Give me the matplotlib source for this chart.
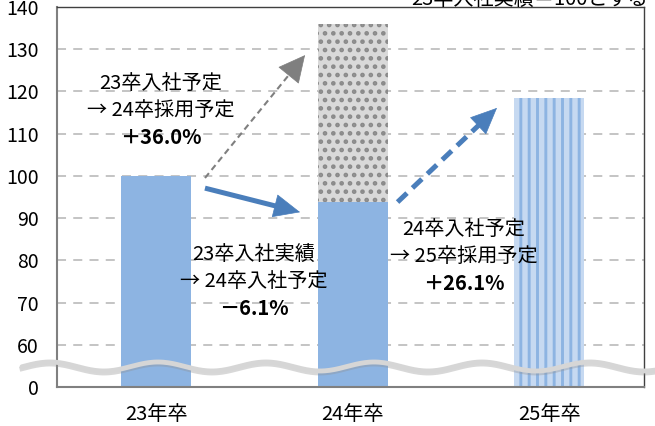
import numpy as np
import matplotlib.pyplot as plt
from matplotlib.lines import Line2D

plt.rcParams['font.family'] = ['Noto Sans CJK JP', 'DejaVu Sans']
plt.rcParams['hatch.linewidth'] = 2.1

# データ（23卒入社実績＝100）
categories = ['23年卒', '24年卒', '25年卒']
join_23 = 100.0      # 23卒入社実績
join_24 = 93.9       # 24卒入社予定
hire_24 = 136.0      # 24卒採用予定
hire_25 = 118.4      # 25卒採用予定
# 縦軸（50 の位置を 0 と表示する省略軸）
ytick_values = [50, 60, 70, 80, 90, 100, 110, 120, 130, 140]
ytick_labels = ['0', '60', '70', '80', '90', '100', '110', '120', '130', '140']
axis_floor = 50

BLUE = '#8db4e2'
LIGHT_BLUE = '#c6d9f1'
ARROW_BLUE = '#4a7ebb'
GREY = '#7f7f7f'

W, H = 655, 426
fig = plt.figure(figsize=(W / 100, H / 100), dpi=100)
ax = fig.add_axes([57 / W, 1 - 387 / H, 587 / W, 380 / H])

x = np.arange(len(categories))
bw = 0.356

# 棒グラフ
ax.bar(x[0], join_23 - axis_floor, bottom=axis_floor, width=bw,
       color=BLUE, lw=0, zorder=2)
ax.bar(x[1], join_24 - axis_floor, bottom=axis_floor, width=bw,
       color=BLUE, lw=0, zorder=2)
ax.bar(x[1], hire_24 - join_24, bottom=join_24, width=bw,
       color='#d9d9d9', edgecolor='#8a8a8a', lw=0, hatch='..', zorder=2)
ax.bar(x[2], hire_25 - axis_floor, bottom=axis_floor, width=bw,
       color=LIGHT_BLUE, edgecolor=BLUE, lw=0, hatch='||', zorder=2)

# 軸の設定
ax.set_xlim(-0.504, 2.483)
ax.set_ylim(axis_floor, 140)
ax.set_xticks(x)
ax.set_xticklabels(categories, fontsize=14.5)
ax.set_yticks(ytick_values)
ax.set_yticklabels(ytick_labels, fontsize=14)
ax.tick_params(axis='x', length=0, pad=12)
ax.tick_params(axis='y', length=0, pad=13)
ax.yaxis.grid(True, color='#bfbfbf', lw=1.3, linestyle=(0, (5, 4)), zorder=0)
ax.set_axisbelow(True)
for side in ['left', 'bottom']:
    ax.spines[side].set_color('#808080')
    ax.spines[side].set_linewidth(1.5)
for side in ['top', 'right']:
    ax.spines[side].set_color('#404040')
    ax.spines[side].set_linewidth(1.0)


# 矢印（軸は点線も可、先端は実線で塗りつぶし）
def draw_arrow(start, tip, color, lw, ls, head_len, head_w):
    p0 = ax.transData.transform(start)
    p1 = ax.transData.transform(tip)
    d = (p1 - p0) / np.hypot(*(p1 - p0))
    base = ax.transData.inverted().transform(p1 - d * head_len * 0.9)
    ax.plot([start[0], base[0]], [start[1], base[1]], color=color, lw=lw,
            linestyle=ls, solid_capstyle='butt', dash_capstyle='butt',
            zorder=4)
    ax.annotate('', xy=tip, xytext=base,
                arrowprops=dict(arrowstyle=f'-|>,head_length={head_len / 10},'
                                           f'head_width={head_w / 20}',
                                color=color, lw=0.5, mutation_scale=10,
                                shrinkA=0, shrinkB=0), zorder=4)


# 長さ・幅はポイント単位
draw_arrow((0.249, 99.5), (0.758, 128.6), GREY, 1.5, (0, (3, 2)), 18, 18)
draw_arrow((0.249, 97.1), (0.733, 91.4), ARROW_BLUE, 3.6, '-', 18, 16)
draw_arrow((1.229, 93.8), (1.735, 116.1), ARROW_BLUE, 3.6, (0, (2.6, 1.5)), 18, 16)

# 注記
notes = [
    (0.025, [121.8, 115.4, 109.0], ['23卒入社予定', '→ 24卒採用予定', '＋36.0%']),
    (0.499, [81.3, 74.9, 68.7], ['23卒入社実績', '→ 24卒入社予定', '－6.1%']),
    (1.567, [87.2, 80.8, 74.6], ['24卒入社予定', '→ 25卒採用予定', '＋26.1%']),
]
for nx, ys, lines in notes:
    for i, (ny, s) in enumerate(zip(ys, lines)):
        ax.text(nx, ny, s, ha='center', va='center', fontsize=14.5,
                fontweight='bold' if i == 2 else 'normal', zorder=5)

# 上部の注記（上端で見切れている）
fig.text(648 / W, 1 - 5 / H, '23卒入社実績＝100とする', ha='right',
         va='baseline', fontsize=14.5)

# 省略線（波線）
px = np.linspace(22, 655, 400)
wave = 366.5 - 4.5 * np.cos(2 * np.pi * (px - 50) / 108)
fig.add_artist(Line2D(px / W, 1 - (wave + 2.0) / H, transform=fig.transFigure,
                      color='#909090', lw=3.5, alpha=0.35, zorder=6))
fig.add_artist(Line2D(px / W, 1 - wave / H, transform=fig.transFigure,
                      color='#d6d6d6', lw=3.5, solid_capstyle='round', zorder=7))

fig.savefig('out.png', dpi=100)
